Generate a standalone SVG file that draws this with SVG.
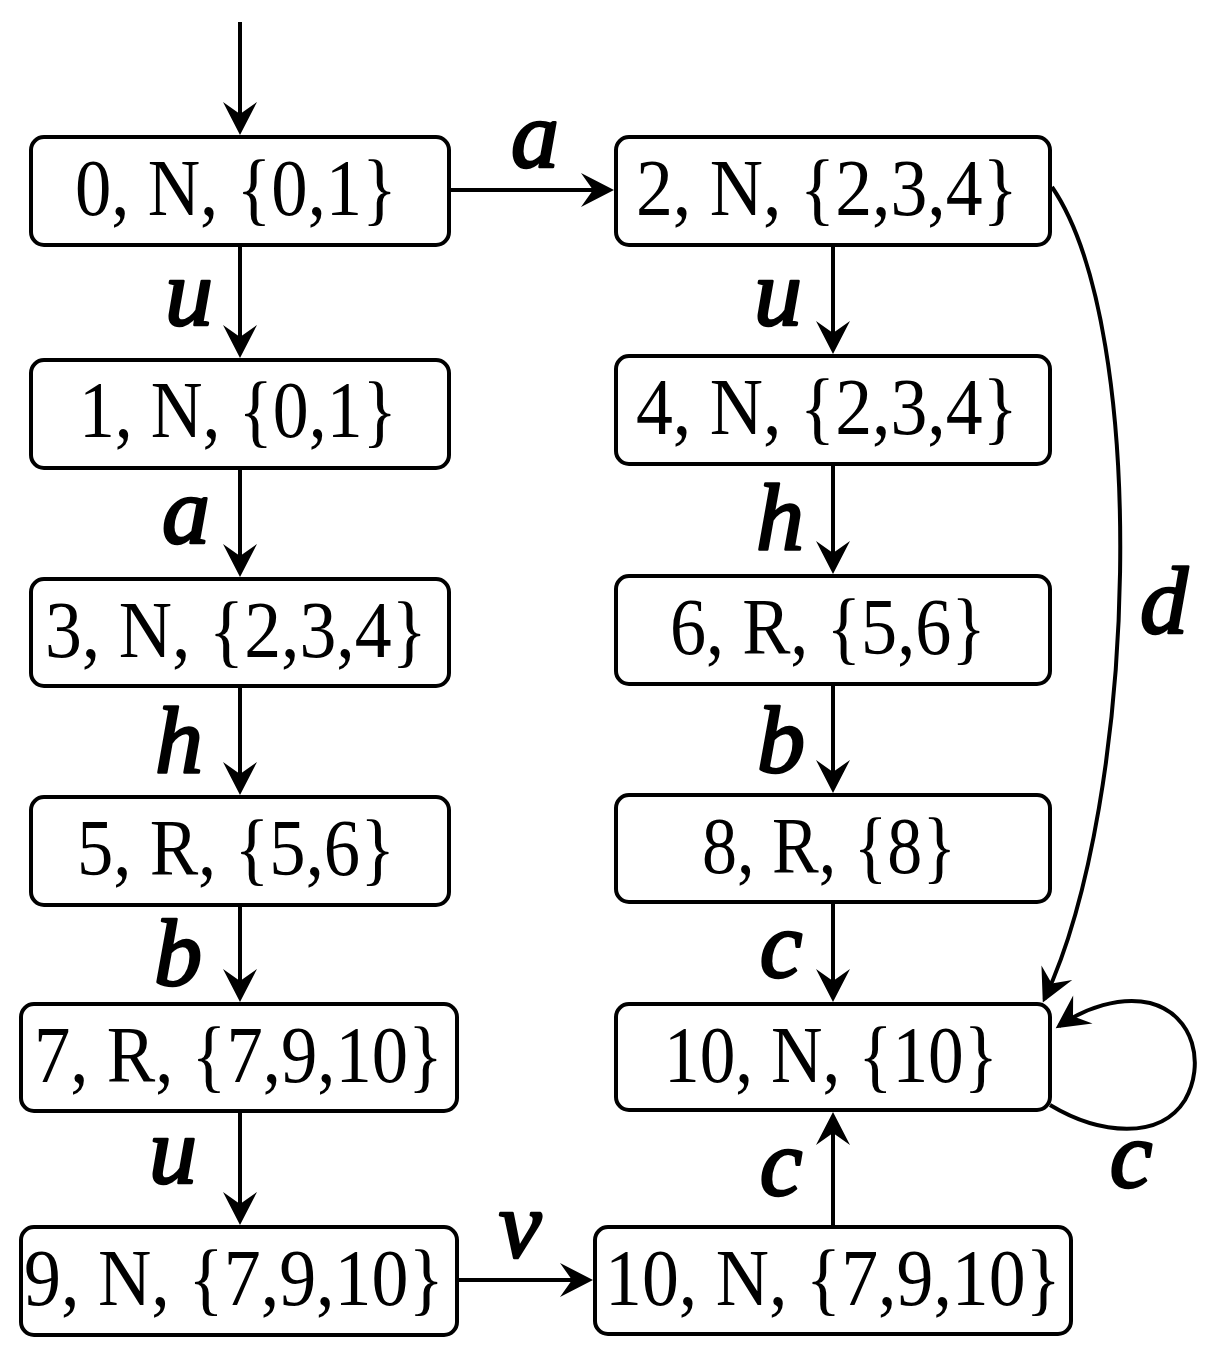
<svg xmlns="http://www.w3.org/2000/svg" width="1225" height="1363" viewBox="0 0 1225 1363">
<style>
.box{fill:#fff;stroke:#000;stroke-width:4}
.t{font-family:"Liberation Serif","Times New Roman",serif;font-size:80px;fill:#000}
.lb{font-family:"Liberation Serif","Times New Roman",serif;font-size:96px;font-style:italic;font-weight:normal;fill:#000;stroke:#000;stroke-width:2.6;stroke-linejoin:round;text-anchor:middle}
.e{fill:none;stroke:#000;stroke-width:4;marker-end:url(#arr)}
</style>
<defs>
<marker id="arr" markerUnits="userSpaceOnUse" markerWidth="40" markerHeight="40" viewBox="-36 -19 40 38" refX="-4" refY="0" orient="auto">
<path d="M0,0 L-33,-17 L-21,0 L-33,17 Z" fill="#000"/>
</marker>
</defs>
<rect width="1225" height="1363" fill="#fff"/>
<g id="connectors">
<path class="e" d="M240,22 V131"/>
<path class="e" d="M240,247 V354"/>
<path class="e" d="M240,470 V573"/>
<path class="e" d="M240,688 V791"/>
<path class="e" d="M240,907 V998"/>
<path class="e" d="M240,1113 V1221"/>
<path class="e" d="M451,190 H610"/>
<path class="e" d="M458,1280 H589"/>
<path class="e" d="M833,247 V350"/>
<path class="e" d="M833,466 V570"/>
<path class="e" d="M833,686 V789"/>
<path class="e" d="M833,904 V998"/>
<path class="e" d="M833,1225 V1116"/>
<path class="e" d="M1052,187 C1150,330 1138,800 1044.5,999"/>
<path class="e" d="M1050,1105 C1100,1135 1160,1140 1185,1100 C1205,1065 1195,1015 1150,1003 C1120,996 1085,1008 1059,1026"/>
<text class="lb" x="535" y="167">a</text>
<text class="lb" x="189" y="325">u</text>
<text class="lb" x="186" y="543">a</text>
<text class="lb" x="179" y="773">h</text>
<text class="lb" x="178" y="985">b</text>
<text class="lb" x="173" y="1183">u</text>
<text class="lb" x="520" y="1257">v</text>
<text class="lb" x="778" y="325">u</text>
<text class="lb" x="780" y="550">h</text>
<text class="lb" x="781" y="772">b</text>
<text class="lb" x="781" y="977">c</text>
<text class="lb" x="781" y="1195">c</text>
<text class="lb" x="1131" y="1187">c</text>
<text class="lb" x="1164" y="633">d</text>
</g>
<g id="n0"><rect class="box" x="31" y="137" width="418" height="108" rx="13"/><text class="t" x="75" y="215" textLength="322" lengthAdjust="spacingAndGlyphs">0, N, {0,1}</text></g>
<g id="n1"><rect class="box" x="31" y="360" width="418" height="108" rx="13"/><text class="t" x="79" y="437" textLength="318" lengthAdjust="spacingAndGlyphs">1, N, {0,1}</text></g>
<g id="n3"><rect class="box" x="31" y="579" width="418" height="107" rx="13"/><text class="t" x="45" y="657" textLength="382" lengthAdjust="spacingAndGlyphs">3, N, {2,3,4}</text></g>
<g id="n5"><rect class="box" x="31" y="797" width="418" height="108" rx="13"/><text class="t" x="77" y="875" textLength="318" lengthAdjust="spacingAndGlyphs">5, R, {5,6}</text></g>
<g id="n7"><rect class="box" x="21" y="1004" width="436" height="107" rx="13"/><text class="t" x="34" y="1082" textLength="409" lengthAdjust="spacingAndGlyphs">7, R, {7,9,10}</text></g>
<g id="n9"><rect class="box" x="21" y="1227" width="436" height="108" rx="13"/><text class="t" x="24" y="1305" textLength="420" lengthAdjust="spacingAndGlyphs">9, N, {7,9,10}</text></g>
<g id="n2"><rect class="box" x="616" y="137" width="434" height="108" rx="13"/><text class="t" x="636" y="215" textLength="382" lengthAdjust="spacingAndGlyphs">2, N, {2,3,4}</text></g>
<g id="n4"><rect class="box" x="616" y="356" width="434" height="108" rx="13"/><text class="t" x="636" y="434" textLength="382" lengthAdjust="spacingAndGlyphs">4, N, {2,3,4}</text></g>
<g id="n6"><rect class="box" x="616" y="576" width="434" height="108" rx="13"/><text class="t" x="670" y="654" textLength="316" lengthAdjust="spacingAndGlyphs">6, R, {5,6}</text></g>
<g id="n8"><rect class="box" x="616" y="795" width="434" height="107" rx="13"/><text class="t" x="702" y="873" textLength="254" lengthAdjust="spacingAndGlyphs">8, R, {8}</text></g>
<g id="n10a"><rect class="box" x="616" y="1004" width="434" height="106" rx="13"/><text class="t" x="664" y="1082" textLength="334" lengthAdjust="spacingAndGlyphs">10, N, {10}</text></g>
<g id="n10b"><rect class="box" x="595" y="1227" width="476" height="107" rx="13"/><text class="t" x="605" y="1305" textLength="456" lengthAdjust="spacingAndGlyphs">10, N, {7,9,10}</text></g>
</svg>
